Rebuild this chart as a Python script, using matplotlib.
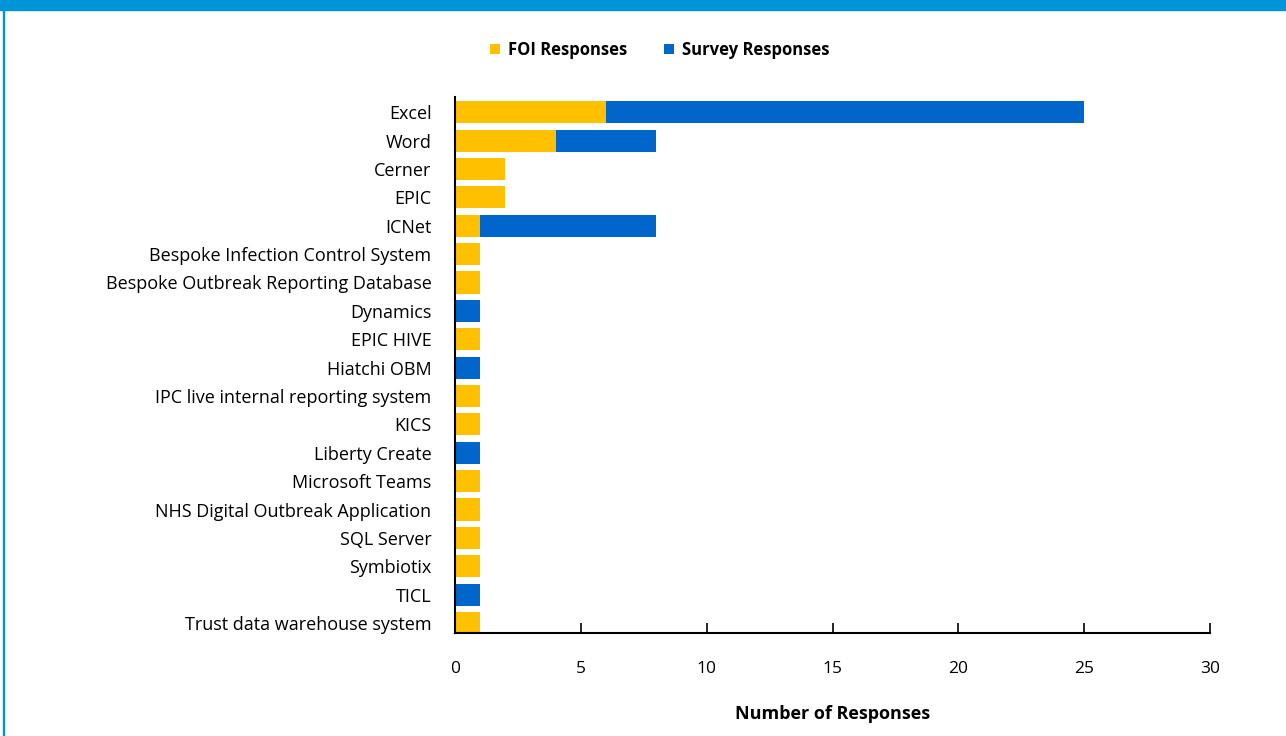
import numpy as np
import matplotlib
matplotlib.use("Agg")
import matplotlib.pyplot as plt
from matplotlib.patches import Rectangle

plt.rcParams['font.family'] = ['Open Sans', 'DejaVu Sans']

# Datos
systems = ['Excel', 'Word', 'Cerner', 'EPIC', 'ICNet',
           'Bespoke Infection Control System', 'Bespoke Outbreak Reporting Database',
           'Dynamics', 'EPIC HIVE', 'Hiatchi OBM', 'IPC live internal reporting system',
           'KICS', 'Liberty Create', 'Microsoft Teams', 'NHS Digital Outbreak Application',
           'SQL Server', 'Symbiotix', 'TICL', 'Trust data warehouse system']
foi = [6, 4, 2, 2, 1, 1, 1, 0, 1, 0, 1, 1, 0, 1, 1, 1, 1, 0, 1]
survey = [19, 4, 0, 0, 7, 0, 0, 1, 0, 1, 0, 0, 1, 0, 0, 0, 0, 1, 0]
xticks = [0, 5, 10, 15, 20, 25, 30]

amarillo = '#FFC000'
azul = '#0066CC'

fig = plt.figure(figsize=(12.86, 7.36), dpi=100)
ax = fig.add_axes([0.3538, 0.140, 0.5872, 0.728])

y = np.arange(len(systems))
ax.barh(y, foi, height=0.78, color=amarillo, label='FOI Responses')
ax.barh(y, survey, left=foi, height=0.78, color=azul, label='Survey Responses')

ax.set_ylim(len(systems) - 1 + 0.35, -0.53)
ax.set_xlim(0, 30)
ax.set_yticks(y)
ax.set_yticklabels(systems, fontsize=13)
ax.tick_params(axis='y', length=0, pad=17)
ax.set_xticks(xticks)
ax.tick_params(axis='x', direction='in', length=7, width=1.2, pad=20, labelsize=12.5)

for s in ['top', 'right']:
    ax.spines[s].set_visible(False)
for s in ['left', 'bottom']:
    ax.spines[s].set_linewidth(1.5)

ax.set_xlabel('Number of Responses', fontsize=13, fontweight='bold', labelpad=20)

leg = fig.legend(loc='center', bbox_to_anchor=(0.513, 0.932), ncol=2, frameon=False,
                 handlelength=0.6, handleheight=0.6, columnspacing=2.2, handletextpad=0.5,
                 prop={'size': 12, 'weight': 'bold'})

# Banda azul superior y borde izquierdo
fig.patches.append(Rectangle((0, 0.986), 1, 0.014, transform=fig.transFigure,
                             color='#0095D9', zorder=0))
fig.patches.append(Rectangle((0.002, 0), 0.0012, 1, transform=fig.transFigure,
                             color='#0095D9', zorder=0))

fig.savefig('out.png', dpi=100)
